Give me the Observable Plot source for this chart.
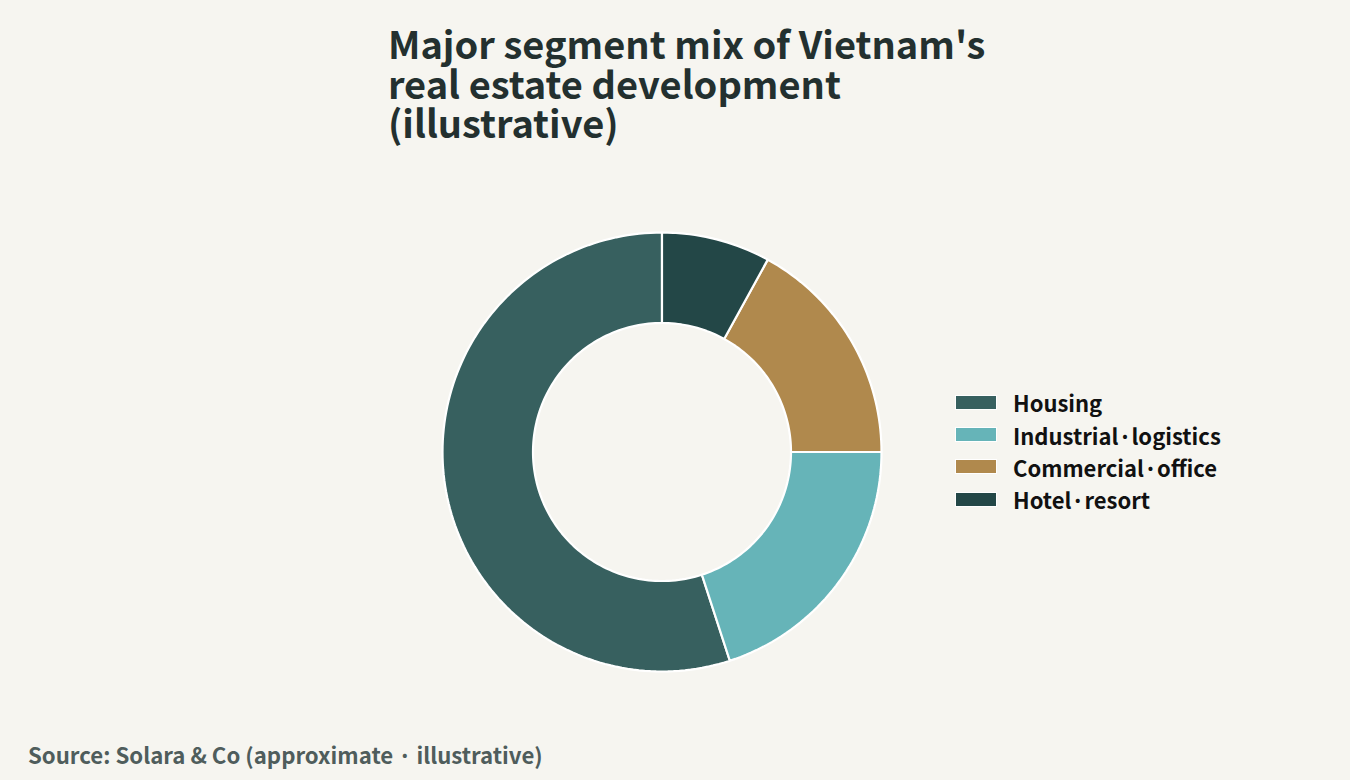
<!DOCTYPE html>
<html>
<head>
<meta charset="utf-8">
<script src="https://cdn.jsdelivr.net/npm/d3@7"></script>
<script src="https://cdn.jsdelivr.net/npm/@observablehq/plot@0.6"></script>
<style>
  html, body { margin: 0; padding: 0; background: #f6f5f0; }
  #wrap { position: relative; width: 1350px; height: 780px; background: #f6f5f0; overflow: hidden;
          font-family: "Noto Sans CJK JP", "Noto Sans", sans-serif; }
  #title { position: absolute; left: 388px; top: 23px; font-size: 38px; line-height: 39.5px; font-weight: 700;
           color: #23302f; margin: 0; }
  #chart { position: absolute; left: 0; top: 0; }
  #legend { position: absolute; left: 955px; top: 386px; }
  .item { display: flex; align-items: center; height: 32.4px; }
  .sw { width: 40px; height: 13px; border: 1.5px solid #ffffff; margin-right: 16px; }
  .lab { font-size: 22px; font-weight: 700; color: #111; }
  #caption { position: absolute; left: 28px; top: 738px; font-size: 22.2px; font-weight: 700; color: #4f5d5c; }
</style>
</head>
<body>
<div id="wrap">
  <div id="title">Major segment mix of Vietnam's<br>real estate development<br>(illustrative)</div>
  <div id="chart"></div>
  <div id="legend"></div>
  <div id="caption">Source: Solara &amp; Co (approximate · illustrative)</div>
</div>
<script>
const segments = ["Housing", "Industrial·logistics", "Commercial·office", "Hotel·resort"];
const shares = [55, 20, 17, 8];
const colors = ["#37605f", "#66b4b8", "#b0894d", "#234747"];

const innerRatio = 129 / 219.5;
const total = d3.sum(shares);
const rows = [];
let cum = 0;
segments.forEach((seg, i) => {
  const a0 = cum / total * 2 * Math.PI;
  cum += shares[i];
  const a1 = cum / total * 2 * Math.PI;
  const n = Math.max(4, Math.ceil((a1 - a0) / (2 * Math.PI) * 240));
  // counterclockwise from top
  for (let k = 0; k <= n; k++) {
    const a = a0 + (a1 - a0) * k / n;
    rows.push({segment: seg, x: -Math.sin(a), y: Math.cos(a)});
  }
  for (let k = n; k >= 0; k--) {
    const a = a0 + (a1 - a0) * k / n;
    rows.push({segment: seg, x: -innerRatio * Math.sin(a), y: innerRatio * Math.cos(a)});
  }
});

const cx = 661.5, cy = 451.5, R = 219.5;
const plot = Plot.plot({
  width: 1350,
  height: 780,
  margin: 0,
  style: {background: "transparent"},
  x: {domain: [-1, 1], range: [cx - R, cx + R], axis: null},
  y: {domain: [-1, 1], range: [cy + R, cy - R], axis: null},
  color: {domain: segments, range: colors},
  marks: [
    Plot.line(rows, {x: "x", y: "y", z: "segment", fill: "segment", stroke: "#ffffff",
                     strokeWidth: 2.2, curve: "linear-closed", strokeLinejoin: "miter"})
  ]
});
document.getElementById("chart").appendChild(plot);

const legend = document.getElementById("legend");
segments.forEach((seg, i) => {
  const item = document.createElement("div");
  item.className = "item";
  const sw = document.createElement("div");
  sw.className = "sw";
  sw.style.background = colors[i];
  const lab = document.createElement("div");
  lab.className = "lab";
  lab.textContent = seg;
  item.appendChild(sw);
  item.appendChild(lab);
  legend.appendChild(item);
});
</script>
</body>
</html>
